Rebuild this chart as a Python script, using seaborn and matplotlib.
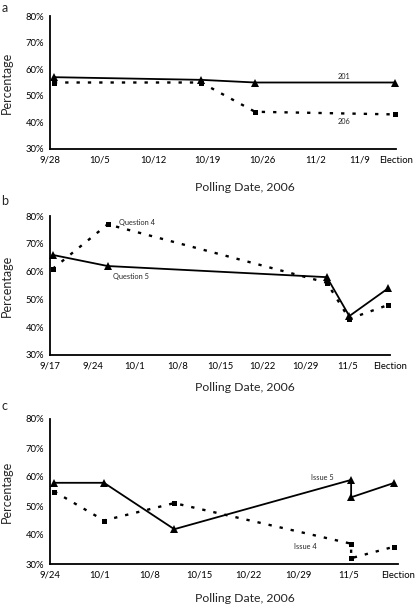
import matplotlib
matplotlib.use("Agg")
import matplotlib.pyplot as plt
import seaborn as sns

# panel a: races 201 / 206
a_ticks = [0, 6.4, 13.4, 20.4, 27.5, 34.5, 40.2, 44.9]
a_ticklabels = ["9/28", "10/5", "10/12", "10/19", "10/26", "11/2", "11/9", "Election"]
a_days = [0.5, 19.6, 26.6, 44.8]
a_201 = [57, 56, 55, 55]
a_206 = [55, 55, 44, 43]

# panel b: questions 4 / 5
b_ticks = [0, 7, 14, 21, 28, 35, 42, 49, 56]
b_ticklabels = ["9/17", "9/24", "10/1", "10/8", "10/15", "10/22", "10/29", "11/5", "Election"]
b_days = [0.45, 9.5, 45.6, 49.3, 55.7]
b_q5 = [66, 62, 58, 44, 54]
b_q4 = [61, 77, 56, 43, 48]

# panel c: issues 4 / 5
c_ticks = [0, 7, 14, 21, 28, 35, 42, 49]
c_ticklabels = ["9/24", "10/1", "10/8", "10/15", "10/22", "10/29", "11/5", "Election"]
c_days = [0.6, 7.6, 17.5, 42.4, 42.4, 48.5]
c_i5 = [58, 58, 42, 59, 53, 58]
c_i4 = [55, 45, 51, 37, 32, 36]

sns.set_style("white")
plt.rcParams["font.family"] = ["Lato", "DejaVu Sans"]

fig = plt.figure(figsize=(4.16, 6.11), dpi=100)
W, H = 416, 611


def make_ax(left, right, top, bottom):
    return fig.add_axes([left / W, 1 - bottom / H, (right - left) / W, (bottom - top) / H])


def style_ax(ax, ticks, labels, xmax, label_y_px, height_px):
    ax.set_xlim(0, xmax)
    ax.set_ylim(30, 80)
    ax.set_xticks(ticks)
    ax.set_xticklabels(labels)
    ax.set_yticks([30, 40, 50, 60, 70, 80])
    ax.set_yticklabels([f"{v}%" for v in range(30, 90, 10)])
    sns.despine(ax=ax)
    for s in ["left", "bottom"]:
        ax.spines[s].set_linewidth(1.3)
        ax.spines[s].set_color("black")
    ax.tick_params(axis="x", direction="in", length=3, width=1, labelsize=6.8, pad=5, colors="black")
    ax.tick_params(axis="y", direction="out", length=3, width=1, labelsize=6.8, pad=1, colors="black")
    width_px = ax.get_position().width * W
    ax.set_xlabel("Polling Date, 2006", fontsize=8.8)
    ax.xaxis.set_label_coords((245 - 50) / width_px, -label_y_px / height_px)
    ax.set_ylabel("Percentage", fontsize=9)
    ax.yaxis.set_label_coords(-37 / width_px, 0.5)
    ax.grid(False)


def draw(ax, x, y, solid):
    if solid:
        sns.lineplot(x=x, y=y, ax=ax, sort=False, estimator=None, color="black",
                     linewidth=1.3, marker="^", markersize=5.5, markeredgewidth=0, clip_on=False)
    else:
        sns.lineplot(x=x, y=y, ax=ax, sort=False, estimator=None, color="black",
                     linewidth=1.7, linestyle=(0, (1.4, 3.4)), marker="s", markersize=3.6,
                     markeredgewidth=0, clip_on=False)


# a
ax1 = make_ax(50, 396, 16, 149)
draw(ax1, a_days, a_206, False)
draw(ax1, a_days, a_201, True)
style_ax(ax1, a_ticks, a_ticklabels, 44.9, 33, 133)
ax1.text(38.1, 57.4, "201", fontsize=5.3, ha="center", va="center")
ax1.text(38.1, 40.3, "206", fontsize=5.3, ha="center", va="center")
fig.text(5 / W, 1 - 8 / H, "a", fontsize=9, ha="center", va="center")

# b
ax2 = make_ax(50, 390, 216, 355)
draw(ax2, b_days, b_q4, False)
draw(ax2, b_days, b_q5, True)
style_ax(ax2, b_ticks, b_ticklabels, 56, 27, 139)
ax2.text(11.4, 77.6, "Question 4", fontsize=5.3, ha="left", va="center")
ax2.text(10.3, 58.4, "Question 5", fontsize=5.3, ha="left", va="center")
fig.text(5 / W, 1 - 201 / H, "b", fontsize=9, ha="center", va="center")

# c
ax3 = make_ax(50, 398, 419, 564)
draw(ax3, c_days, c_i4, False)
draw(ax3, c_days, c_i5, True)
style_ax(ax3, c_ticks, c_ticklabels, 49, 29, 145)
ax3.text(38.3, 59.8, "Issue 5", fontsize=5.3, ha="center", va="center")
ax3.text(36, 36, "Issue 4", fontsize=5.3, ha="center", va="center")
fig.text(5 / W, 1 - 406 / H, "c", fontsize=9, ha="center", va="center")

fig.savefig("out.png", dpi=100)
